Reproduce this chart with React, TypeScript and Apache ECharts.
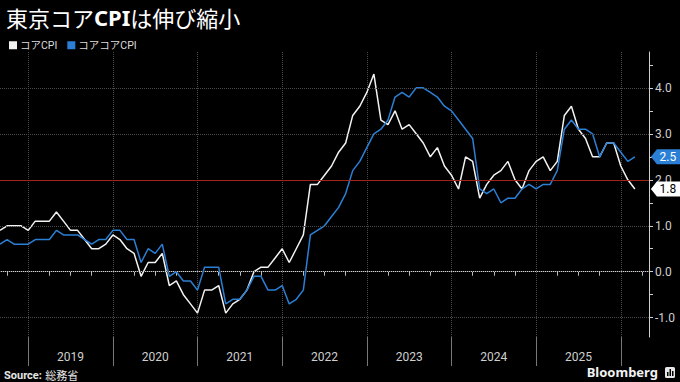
import React, { useEffect, useRef } from 'react';
import * as echarts from 'echarts';

// Monthly categories (data month), Aug 2018 .. Apr 2026
const START_YEAR = 2018;
const START_MONTH = 8;
const MONTH_COUNT = 93;
const months: string[] = [];
for (let k = 0; k < MONTH_COUNT; k++) {
  const t = START_MONTH - 1 + k;
  const y = START_YEAR + Math.floor(t / 12);
  const m = (t % 12) + 1;
  months.push(`${y}-${String(m).padStart(2, '0')}`);
}

// コアCPI (Tokyo core CPI, y/y %)
const coreCPI = [
  0.9, 1.0, 1.0, 1.0, 0.9,
  1.1, 1.1, 1.1, 1.3, 1.1, 0.9, 0.9, 0.7, 0.5, 0.5, 0.6, 0.8,
  0.7, 0.5, 0.4, -0.1, 0.2, 0.2, 0.4, -0.3, -0.2, -0.5, -0.7, -0.9,
  -0.4, -0.4, -0.3, -0.9, -0.7, -0.6, -0.4, 0.0, 0.1, 0.1, 0.3, 0.5,
  0.2, 0.5, 0.8, 1.9, 1.9, 2.1, 2.3, 2.6, 2.8, 3.4, 3.6, 3.9,
  4.3, 3.3, 3.2, 3.5, 3.1, 3.2, 3.0, 2.8, 2.5, 2.7, 2.3, 2.1,
  1.8, 2.5, 2.4, 1.6, 1.9, 2.1, 2.2, 2.4, 2.0, 1.8, 2.2, 2.4,
  2.5, 2.2, 2.4, 3.4, 3.6, 3.1, 2.9, 2.5, 2.5, 2.8, 2.8, 2.3,
  2.0, 1.8,
];

// コアコアCPI
const coreCoreCPI = [
  0.6, 0.7, 0.6, 0.6, 0.6,
  0.7, 0.7, 0.7, 0.9, 0.8, 0.8, 0.8, 0.7, 0.6, 0.7, 0.7, 0.9,
  0.9, 0.7, 0.7, 0.2, 0.5, 0.4, 0.6, -0.1, 0.0, -0.2, -0.2, -0.4,
  0.1, 0.1, 0.1, -0.7, -0.6, -0.6, -0.4, -0.1, -0.1, -0.4, -0.4, -0.3,
  -0.7, -0.6, -0.4, 0.8, 0.9, 1.0, 1.2, 1.4, 1.7, 2.2, 2.4, 2.7,
  3.0, 3.1, 3.3, 3.8, 3.9, 3.8, 4.0, 4.0, 3.9, 3.8, 3.6, 3.5,
  3.3, 3.1, 2.9, 1.8, 1.7, 1.8, 1.5, 1.6, 1.6, 1.8, 1.9, 1.8,
  1.9, 1.9, 2.2, 3.1, 3.3, 3.1, 3.1, 3.0, 2.5, 2.8, 2.8, 2.6,
  2.4, 2.5,
];

const yearLabels = ['2019', '2020', '2021', '2022', '2023', '2024', '2025'];
const yLabelValues = [-1, 0, 1, 2, 3, 4];
const yTickValues = [-1, -0.5, 0, 0.5, 1, 1.5, 2, 2.5, 3, 3.5, 4, 4.5];
const gridLineValues = [-1, 0, 1, 3, 4];
const targetValue = 2;
const Y_MIN = -1.42;
const Y_MAX = 4.78;

const WHITE = '#f2f2f2';
const BLUE = '#2b80d6';
const FONT = "Roboto, 'Noto Sans', 'Noto Sans CJK JP', sans-serif";
const JP = "'Noto Sans CJK JP', sans-serif";

const monthOf = (v: string) => parseInt(v.slice(5, 7), 10);

export default function App() {
  const ref = useRef<HTMLDivElement>(null);
  useEffect(() => {
    if (!ref.current) return;
    const chart = echarts.init(ref.current, undefined, { renderer: 'svg' });
    const lastIdxW = coreCPI.length - 1;
    const lastIdxB = coreCoreCPI.length - 1;
    const tagPath = 'path://M0,7 L6,0 L30,0 L30,14 L6,14 Z';
    chart.setOption({
      animation: false,
      backgroundColor: '#000',
      textStyle: { fontFamily: FONT },
      title: {
        left: 1,
        top: 1,
        text: '{a|東京コア}{b|CPI}{a|は伸び縮小}',
        textStyle: {
          rich: {
            a: { fontSize: 22, color: '#fff', fontFamily: JP, fontWeight: 'normal' },
            b: { fontSize: 22, color: '#fff', fontFamily: "'Noto Sans', sans-serif", fontWeight: 'bold' },
          },
        },
      },
      legend: {
        left: 4,
        top: 35,
        icon: 'rect',
        itemWidth: 8,
        itemHeight: 8,
        itemGap: 10,
        textStyle: { color: '#ddd', fontSize: 10.5, fontFamily: FONT, padding: [0, 0, 0, -2] },
        data: ['コアCPI', 'コアコアCPI'],
      },
      grid: { left: 0, right: 31, top: 52, bottom: 45, containLabel: false },
      xAxis: [
        {
          type: 'category',
          data: months,
          boundaryGap: false,
          position: 'bottom',
          axisLine: { show: true, lineStyle: { color: '#cfcfcf', width: 1 } },
          axisTick: {
            show: true,
            length: 4,
            interval: (i: number, v: string) => [3, 6, 9].includes(monthOf(v)),
            lineStyle: { color: '#bbb' },
          },
          axisLabel: {
            show: true,
            interval: (i: number, v: string) => monthOf(v) === 6 && yearLabels.includes(v.slice(0, 4)),
            formatter: (v: string) => v.slice(0, 4),
            color: '#cfcfcf',
            fontSize: 12,
            margin: 14,
            fontFamily: FONT,
          },
          splitLine: {
            show: true,
            interval: (i: number, v: string) => monthOf(v) === 12,
            lineStyle: { color: '#4a4a4a', type: 'dotted', width: 1 },
          },
        },
        {
          type: 'category',
          data: months,
          boundaryGap: false,
          position: 'bottom',
          axisLine: { show: false },
          axisTick: {
            show: true,
            length: 29,
            interval: (i: number, v: string) => monthOf(v) === 12,
            lineStyle: { color: '#777' },
          },
          axisLabel: { show: false },
          splitLine: { show: false },
        },
      ],
      yAxis: {
        type: 'value',
        position: 'right',
        min: Y_MIN,
        max: Y_MAX,
        axisLine: { show: true, lineStyle: { color: '#cfcfcf', width: 1 } },
        axisTick: { show: true, length: 4, customValues: yTickValues, lineStyle: { color: '#cfcfcf' } },
        axisLabel: {
          show: true,
          customValues: yLabelValues,
          formatter: (v: number) => v.toFixed(1),
          color: '#cfcfcf',
          fontSize: 12,
          margin: 6,
          fontFamily: FONT,
        },
        splitLine: { show: false },
      },
      series: [
        {
          name: 'コアCPI',
          type: 'line',
          data: coreCPI,
          symbol: 'none',
          lineStyle: { color: WHITE, width: 1.5 },
          itemStyle: { color: WHITE },
          markLine: {
            silent: true,
            symbol: ['none', 'none'],
            label: { show: false },
            data: [
              ...gridLineValues.map((v) => ({ yAxis: v, lineStyle: { color: '#4a4a4a', type: 'dotted', width: 1 } })),
              { yAxis: targetValue, lineStyle: { color: '#a3231d', type: 'solid', width: 1 } },
            ],
          },
          markPoint: {
            silent: true,
            symbol: tagPath,
            symbolSize: [30, 15],
            symbolOffset: [31, 0],
            itemStyle: { color: '#ffffff' },
            label: {
              show: true,
              position: 'inside',
              offset: [2, 0],
              color: '#000',
              fontSize: 12,
              fontFamily: FONT,
              formatter: () => coreCPI[lastIdxW].toFixed(1),
            },
            data: [{ coord: [months[lastIdxW], coreCPI[lastIdxW]] }],
          },
        },
        {
          name: 'コアコアCPI',
          type: 'line',
          data: coreCoreCPI,
          symbol: 'none',
          lineStyle: { color: BLUE, width: 1.5 },
          itemStyle: { color: BLUE },
          markPoint: {
            silent: true,
            symbol: tagPath,
            symbolSize: [30, 15],
            symbolOffset: [31, 0],
            itemStyle: { color: BLUE },
            label: {
              show: true,
              position: 'inside',
              offset: [2, 0],
              color: '#fff',
              fontSize: 12,
              fontFamily: FONT,
              formatter: () => coreCoreCPI[lastIdxB].toFixed(1),
            },
            data: [{ coord: [months[lastIdxB], coreCoreCPI[lastIdxB]] }],
          },
        },
      ],
      graphic: [
        {
          type: 'text',
          left: 4,
          top: 369,
          style: {
            text: '{s|Source:} {j|総務省}',
            rich: {
              s: { fontSize: 11, fontWeight: 'bold', fill: '#e6e6e6', fontFamily: FONT },
              j: { fontSize: 11, fill: '#e6e6e6', fontFamily: JP },
            },
          },
        },
        {
          type: 'text',
          right: 22,
          top: 365,
          style: { text: 'Bloomberg', fontSize: 13, fontWeight: 'bold', fill: '#f2f2f2', fontFamily: "'Noto Sans', sans-serif" },
        },
        {
          type: 'group',
          right: 5,
          top: 367,
          children: [
            { type: 'rect', shape: { x: 0, y: 0, width: 10, height: 11, r: 1.5 }, style: { fill: '#e6e6e6' } },
            { type: 'rect', shape: { x: 2, y: 5, width: 1.5, height: 4 }, style: { fill: '#000' } },
            { type: 'rect', shape: { x: 4.5, y: 2, width: 1.5, height: 7 }, style: { fill: '#000' } },
            { type: 'rect', shape: { x: 7, y: 4, width: 1.5, height: 5 }, style: { fill: '#000' } },
          ],
        },
      ],
    });
    return () => chart.dispose();
  }, []);
  return (
    <div
      ref={ref}
      style={{ position: 'fixed', left: 0, top: 0, width: 680, height: 382, background: '#000' }}
    />
  );
}
